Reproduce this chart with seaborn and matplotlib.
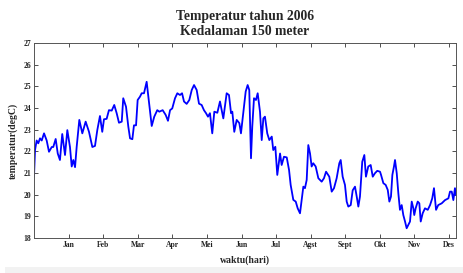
import matplotlib
matplotlib.use("Agg")
import matplotlib.pyplot as plt
import seaborn as sns
import pandas as pd
from matplotlib.patches import Rectangle

days = [0, 0.9, 2.3, 3.7, 5.2, 6.7, 8.7, 11, 13, 15.4, 16.7, 18.8, 20.6, 22.5, 24.5, 26.9,
        28.9, 31.2, 32.7, 34.1, 35.6, 37, 39.3, 41.9, 44.8, 47.7, 50.6, 52.9, 54.9, 57.2,
        59.2, 60.7, 63, 65, 67.4, 69.6, 71.7, 73.7, 76.1, 77.4, 79.8, 81.8, 83.3, 85.3,
        86.7, 88.5, 89.9, 91.9, 93.4, 95.4, 97.7, 99.7, 102.1, 104.3, 106.9, 108.7, 111.6,
        114.2, 116.2, 118, 119.9, 122.3, 124.3, 126.6, 128.4, 130.1, 132.4, 134.7, 136.8,
        138.8, 141.1, 143.1, 145.4, 147.4, 149.2, 150.9, 152.6, 154.6, 156.4, 159, 161.3,
        164.2, 167.1, 169.1, 170.9, 172, 173.7, 175.8, 178.1, 179.5, 181.5, 183.6, 185.3,
        186.7, 188.2, 189.3, 190.8, 192.5, 194, 196, 197.5, 198.9, 200.3, 202.3, 204.1,
        206.2, 207.5, 209.3, 211, 213.4, 214.8, 216.8, 219.2, 221.2, 222.6, 224.9, 227,
        228.7, 230.7, 232.2, 233.6, 235, 236.5, 237.9, 239.4, 240.8, 242.2, 244.3, 246.6,
        249.5, 251.5, 253.3, 256.1, 258.2, 260.2, 262.5, 264.8, 266, 267.7, 269.7, 271.2,
        272.6, 274.7, 276.4, 278.4, 279.9, 281.3, 282.7, 284.7, 286.5, 287.9, 289.9, 292,
        293.8, 295.7, 297.7, 300.1, 301, 303, 305, 306.8, 308.2, 309.6, 310.8, 312.2,
        313.1, 314.6, 316, 317.4, 318.9, 320.3, 321.8, 323.2, 324.6, 326.1, 327.6, 329,
        329.8, 331, 332.8, 334.2, 335.4, 337.1, 339.1, 341.5, 343.5, 345.4, 346.9, 348.7,
        350.6, 353.6, 356.5, 359.4, 360.8, 362.3, 363.7, 365.1, 366]

temps = [20.83, 22.06, 22.5, 22.37, 22.6, 22.5, 22.83, 22.5, 21.98, 22.2, 22.2, 22.57, 21.9,
         21.6, 22.8, 21.83, 22.98, 22.2, 21.3, 21.6, 21.27, 22.2, 23.45, 22.83, 23.37, 22.9,
         22.2, 22.25, 22.98, 23.63, 22.9, 23.48, 23.5, 23.9, 23.88, 24.14, 23.76, 23.32,
         23.37, 24.45, 24.06, 23.14, 22.6, 22.56, 23.2, 23.2, 24.37, 24.52, 24.68, 24.68,
         25.21, 24.3, 23.17, 23.6, 23.9, 23.83, 23.9, 23.68, 23.41, 23.9, 23.98, 24.45,
         24.68, 24.6, 24.68, 24.3, 24.19, 24.37, 24.83, 25.06, 24.83, 24.2, 24.14, 23.9,
         23.76, 23.6, 23.76, 22.83, 23.83, 23.78, 24.3, 23.52, 24.68, 24.6, 23.76, 23.83,
         22.9, 23.45, 23.3, 22.83, 23.76, 24.76, 25.06, 24.83, 21.68, 23.14, 24.45, 24.37,
         24.68, 23.83, 22.52, 23.52, 23.6, 22.83, 22.52, 22.68, 22.06, 22.21, 20.91, 21.9,
         21.37, 21.75, 21.72, 21.14, 20.45, 19.76, 19.68, 19.37, 19.14, 19.76, 20.37, 20.3,
         20.68, 22.29, 21.9, 21.3, 21.45, 21.3, 20.76, 20.6, 20.76, 21.06, 20.83, 20.14,
         20.3, 20.76, 21.45, 21.6, 20.83, 20.45, 19.68, 19.45, 19.52, 20.2, 20.37, 19.91,
         19.45, 19.91, 21.52, 21.83, 20.83, 21.3, 21.37, 20.83, 20.99, 21.1, 21.06, 20.91,
         20.53, 20.45, 20.22, 19.68, 19.91, 20.91, 21.3, 21.6, 20.99, 20.06, 19.3, 19.52,
         19.06, 18.76, 18.45, 18.6, 18.76, 19.68, 19.37, 19.06, 19.37, 19.68, 19.6, 18.76,
         19.14, 19.37, 19.3, 19.52, 19.83, 20.3, 19.3, 19.52, 19.6, 19.75, 19.83, 20.14,
         20.14, 19.75, 20.3, 19.98]

month_ticks = [30, 60, 90, 120, 150, 180, 210, 240, 270, 300, 330, 360]
month_labels = ["Jan", "Feb", "Mar", "Apr", "Mei", "Jun", "Jul", "Agst", "Sept", "Okt", "Nov", "Des"]
y_ticks = [18, 19, 20, 21, 22, 23, 24, 25, 26, 27]

sns.set_style("white")
plt.rcParams["font.family"] = ["Liberation Serif", "DejaVu Serif"]

fig = plt.figure(figsize=(4.64, 2.73), dpi=100)
fig.patches.append(Rectangle((5 / 464, 0), 1, 6 / 273, transform=fig.transFigure,
                             facecolor="#f2f2f2", edgecolor="none", zorder=0))
ax = fig.add_axes([34 / 464, 1 - 238 / 273, 422 / 464, 195 / 273])

df = pd.DataFrame({"day": days, "temp": temps})
sns.lineplot(data=df, x="day", y="temp", ax=ax, color="#0000ff", linewidth=1.3, sort=False)

ax.set_xlim(0, 366)
ax.set_ylim(18, 27)
ax.set_xticks(month_ticks)
ax.set_xticklabels(month_labels, fontsize=5.5, fontweight="bold")
ax.set_yticks(y_ticks)
ax.set_yticklabels([str(v) for v in y_ticks], fontsize=5.5, fontweight="bold")
ax.tick_params(direction="in", length=3, width=0.6, top=True, right=True,
               bottom=True, left=True, pad=2, colors="#333333")
for lab in ax.get_xticklabels() + ax.get_yticklabels():
    lab.set_color("#222222")
for sp in ax.spines.values():
    sp.set_color("#555555")
    sp.set_linewidth(0.7)

ax.set_xlabel("waktu(hari)", fontsize=7, fontweight="bold", labelpad=5)
ax.set_ylabel("temperatur(degC)", fontsize=7, fontweight="bold", labelpad=4)
ax.set_title("Temperatur tahun 2006\nKedalaman 150 meter", fontsize=9.8,
             fontweight="bold", linespacing=1.15, pad=6)

fig.savefig("out.png", dpi=100)
